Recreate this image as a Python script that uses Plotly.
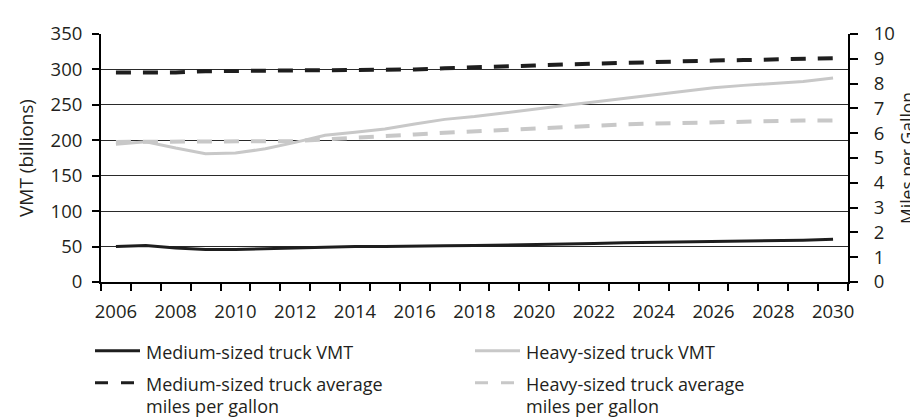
import plotly.graph_objects as go

# ---------------- data ----------------
years = [2006, 2007, 2008, 2009, 2010, 2011, 2012, 2013, 2014, 2015, 2016, 2017,
         2018, 2019, 2020, 2021, 2022, 2023, 2024, 2025, 2026, 2027, 2028, 2029, 2030]

medium_vmt = [50, 51.5, 48, 46, 46, 47, 48.5, 50, 50, 50, 50, 51,
              51.5, 52, 52.5, 53.5, 54.5, 55.5, 56, 57, 58, 58.5, 59, 59, 60.5]
heavy_vmt = [194.5, 198, 189, 181, 182, 188, 197, 207, 211.5, 216, 223, 229.5,
             233.5, 239, 244.5, 249, 254, 259, 265, 269.5, 274, 277.5, 280, 283, 288]
medium_mpg = [8.45, 8.45, 8.45, 8.5, 8.51, 8.51, 8.51, 8.51, 8.53, 8.55, 8.57, 8.62,
              8.67, 8.71, 8.73, 8.77, 8.81, 8.85, 8.88, 8.91, 8.93, 8.95, 8.98, 9.0, 9.02]
heavy_mpg = [5.65, 5.66, 5.66, 5.66, 5.66, 5.66, 5.68, 5.75, 5.83, 5.87, 5.95, 6.02,
             6.08, 6.14, 6.2, 6.27, 6.31, 6.35, 6.39, 6.42, 6.44, 6.47, 6.5, 6.51, 6.51]

x_tick_labels = ["2006", "2008", "2010", "2012", "2014", "2016", "2018",
                 "2020", "2022", "2024", "2026", "2028", "2030"]
left_ticks = [0, 50, 100, 150, 200, 250, 300, 350]
right_ticks = [0, 1, 2, 3, 4, 5, 6, 7, 8, 9, 10]

series_names = ["Medium-sized truck VMT",
                "Heavy-sized truck VMT",
                "Medium-sized truck average<br>miles per gallon",
                "Heavy-sized truck average<br>miles per gallon"]

# ---------------- styles ----------------
BLACK = "#1e1e1e"
GRAY = "#c8c8c8"
FONT = "Open Sans"
TXT = "#231f20"
FS = 18.5
LFS = 18

W, H = 918, 417
L, R, T, B = 93, 78, 18, 143
PW, PH = W - L - R, H - T - B


def px(xp):
    return (xp - L) / PW


def py(yp):
    return (H - B - yp) / PH


fig = go.Figure()

fig.add_trace(go.Scatter(x=years, y=medium_vmt, mode="lines", name=series_names[0],
                         line=dict(color=BLACK, width=3), showlegend=False))
fig.add_trace(go.Scatter(x=years, y=heavy_vmt, mode="lines", name=series_names[1],
                         line=dict(color=GRAY, width=3), showlegend=False))
fig.add_trace(go.Scatter(x=years, y=heavy_mpg, mode="lines", name=series_names[3],
                         yaxis="y2", line=dict(color=GRAY, width=4, dash="15px,12px"),
                         showlegend=False))
fig.add_trace(go.Scatter(x=years, y=medium_mpg, mode="lines", name=series_names[2],
                         yaxis="y2", line=dict(color=BLACK, width=4, dash="15px,12px"),
                         showlegend=False))

# ---------------- manual legend ----------------
legend_items = [
    (series_names[0], BLACK, "solid", 87, 345),
    (series_names[1], GRAY, "solid", 467, 345),
    (series_names[2], BLACK, "13px,13px", 87, 378),
    (series_names[3], GRAY, "13px,13px", 467, 378),
]
shapes = []
annotations = []
for name, color, dash, x0, y0 in legend_items:
    shapes.append(dict(type="line", xref="paper", yref="paper",
                       x0=px(x0), x1=px(x0 + 45), y0=py(y0), y1=py(y0),
                       line=dict(color=color, width=3, dash=dash)))
    for i, line in enumerate(name.split("<br>")):
        annotations.append(dict(text=line, xref="paper", yref="paper",
                                x=px(x0 + 49), y=py(y0 + 1 + 23 * i),
                                xanchor="left", yanchor="middle", showarrow=False,
                                font=dict(family=FONT, size=LFS, color=TXT)))

# axis titles
annotations.append(dict(text="VMT (billions)", xref="paper", yref="paper",
                        x=px(18), y=py(146), textangle=-90, showarrow=False,
                        xanchor="center", yanchor="middle",
                        font=dict(family=FONT, size=19, color=TXT)))
annotations.append(dict(text="Miles per Gallon", xref="paper", yref="paper",
                        x=px(899), y=py(146), textangle=-90, showarrow=False,
                        xanchor="center", yanchor="middle",
                        font=dict(family=FONT, size=17.5, color=TXT)))

fig.update_layout(
    width=W, height=H, autosize=False,
    margin=dict(l=L, r=R, t=T, b=B),
    paper_bgcolor="white", plot_bgcolor="white",
    font=dict(family=FONT, size=FS, color=TXT),
    showlegend=False,
    shapes=shapes,
    annotations=annotations,
    xaxis=dict(
        range=[2005.5, 2030.5],
        tickmode="array",
        tickvals=[int(t) for t in x_tick_labels],
        ticktext=x_tick_labels,
        ticks="",
        ticklabelstandoff=12,
        showgrid=False, zeroline=False,
        showline=True, linecolor="black", linewidth=2,
        minor=dict(tickmode="array",
                   tickvals=[y - 0.5 for y in years] + [years[-1] + 0.5],
                   ticks="outside", ticklen=7, tickwidth=1.5, tickcolor="black",
                   showgrid=False),
        tickfont=dict(family=FONT, size=FS, color=TXT),
    ),
    yaxis=dict(
        range=[0, 350],
        tickmode="array", tickvals=left_ticks,
        ticks="outside", ticklen=7, tickwidth=1.5, tickcolor="black",
        ticklabelstandoff=6,
        showgrid=True, gridcolor="#2a2a2a", gridwidth=1.2,
        zeroline=False,
        showline=True, linecolor="black", linewidth=2,
        tickfont=dict(family=FONT, size=FS, color=TXT),
    ),
    yaxis2=dict(
        range=[0, 10],
        overlaying="y", side="right",
        tickmode="array", tickvals=right_ticks,
        ticks="outside", ticklen=8, tickwidth=1.5, tickcolor="black",
        ticklabelstandoff=12,
        showgrid=False, zeroline=False,
        showline=True, linecolor="black", linewidth=2,
        tickfont=dict(family=FONT, size=FS, color=TXT),
    ),
)

fig.write_html("out.html")
